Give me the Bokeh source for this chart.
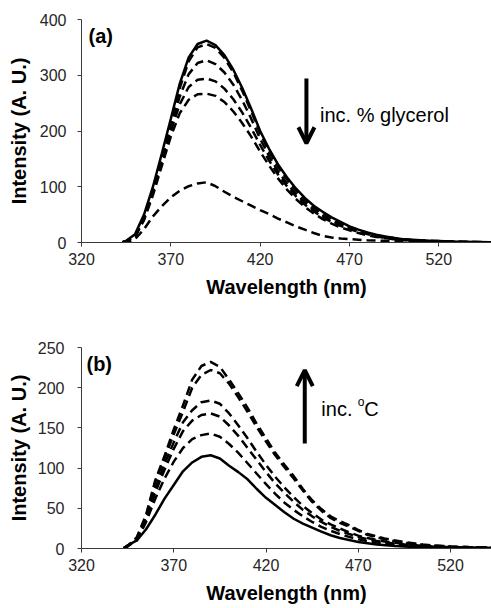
from bokeh.plotting import figure
from bokeh.layouts import column
from bokeh.models import Range1d, FixedTicker, Arrow, OpenHead, Label
from bokeh.embed import file_html
from bokeh.resources import INLINE

# ---------------- data ----------------
wavelength = [343, 345, 350, 355, 360, 365, 370, 375, 380, 385, 390, 395, 400, 405, 410,
              415, 420, 425, 430, 435, 440, 445, 450, 455, 460, 465, 470, 475, 480, 485,
              490, 495, 500, 505, 510, 515, 520, 530, 540, 550]

# panel (a): increasing % glycerol (solid = reference, dashed = increasing glycerol)
a_solid = [0.5, 3, 15, 50, 100, 160, 222, 285, 332, 356, 362, 354, 336, 310, 277, 240, 200, 168, 140, 117,
           97, 80, 66, 55, 45, 37, 29, 23, 18, 14, 11, 8, 6, 5, 4, 3, 2.5, 1.5, 1, 0.5]
a_d1 = [0.5, 2, 12, 45, 94, 153, 213, 277, 325, 350, 356, 349, 331, 305, 272, 235, 196, 163, 136, 113,
        93, 77, 63, 52, 43, 35, 28, 22, 17, 13, 10, 8, 6, 4.5, 3.5, 3, 2.5, 1.5, 1, 0.5]
a_d2 = [0.5, 2, 12, 44, 92, 150, 208, 262, 302, 322, 327, 320, 305, 283, 255, 222, 186, 155, 128, 106,
        87, 72, 59, 48, 39, 32, 26, 20, 16, 12, 9, 7, 5, 4, 3, 2.5, 2, 1.2, 0.8, 0.4]
a_d3 = [0.5, 2, 11, 42, 89, 145, 200, 248, 279, 292, 294, 289, 276, 257, 233, 205, 175, 147, 122, 101,
        83, 68, 56, 45, 37, 30, 24, 19, 15, 11, 8, 6, 5, 4, 3, 2.3, 1.8, 1, 0.6, 0.3]
a_d4 = [0.5, 2, 10, 40, 85, 138, 190, 232, 256, 266, 267, 263, 252, 235, 214, 190, 163, 138, 115, 95,
        78, 64, 52, 42, 34, 27, 22, 17, 13, 10, 8, 6, 4.5, 3.5, 2.7, 2, 1.6, 1, 0.6, 0.3]
a_d5 = [0, 0, 6, 24, 47, 65, 81, 93, 101, 106, 108, 101, 91, 82, 74, 66, 58, 51, 43, 36,
        29, 23, 17, 12, 9, 7, 6, 5, 4, 3.5, 3, 2.5, 2, 1.5, 1.2, 1, 0.8, 0.5, 0.3, 0.2]

# panel (b): increasing temperature
b_solid = [0.5, 4, 10, 24, 42, 62, 79, 96, 107, 114, 116, 112, 103, 95, 86, 74, 63, 54, 45, 37,
           31, 26, 21, 16.5, 13, 10.5, 8, 6.5, 5, 4, 3, 2.5, 2, 1.5, 1.3, 1, 0.8, 0.6, 0.4, 0.3]
b_d1 = [0.5, 3, 10, 33, 62, 87, 108, 125, 136, 141, 143, 139, 130, 119, 106, 93, 80, 68, 57, 48,
        40, 33, 27, 22, 18, 14.5, 11.5, 9, 7.5, 6, 5, 4, 3.3, 2.6, 2, 1.6, 1.3, 0.9, 0.6, 0.4]
b_d2 = [0.5, 3, 11, 36, 70, 98, 124, 146, 159, 166, 168, 164, 153, 140, 125, 110, 95, 81, 69, 58,
        48, 40, 33, 27, 22, 18, 14.5, 11.5, 9.5, 7.5, 6, 5, 4, 3.2, 2.5, 2, 1.7, 1.2, 0.8, 0.5]
b_d3 = [0.5, 3, 12, 38, 75, 105, 132, 157, 172, 182, 184, 180, 168, 153, 137, 120, 104, 89, 76, 64,
        53, 44, 36, 30, 25, 20, 16, 13, 10.5, 8.5, 7, 5.5, 4.5, 3.5, 2.8, 2.3, 1.9, 1.3, 0.9, 0.6]
b_d4 = [0.5, 3, 13, 40, 83, 112, 142, 170, 200, 216, 222, 218, 205, 188, 170, 151, 133, 116, 101, 87,
        72, 58, 47, 38, 32, 27, 22, 17, 14, 11, 9, 7, 6, 4.5, 3.6, 3, 2.4, 1.6, 1.1, 0.7]
b_d5 = [0.5, 3, 14, 42, 85, 115, 148, 178, 210, 227, 232, 226, 210, 193, 175, 155, 137, 119, 104, 90,
        74, 60, 49, 40, 34, 29, 23, 18, 15, 12, 10, 8, 6.5, 5, 4, 3.2, 2.6, 1.8, 1.2, 0.8]

x_ticks = [320, 370, 420, 470, 520]
a_y_ticks = [0, 100, 200, 300, 400]
b_y_ticks = [0, 50, 100, 150, 200, 250]

FONT = "Liberation Sans"
AXIS_COLOR = "#3a3a3a"
TEXT_COLOR = "#262626"


def make_fig(height, x_end, y_end, y_ticks, border_left, border_top, border_bottom):
    p = figure(width=491, height=height, output_backend="svg", toolbar_location=None,
               x_range=Range1d(320, x_end), y_range=Range1d(0, y_end),
               min_border_left=border_left, min_border_right=0,
               min_border_top=border_top, min_border_bottom=border_bottom)
    p.outline_line_color = None
    p.background_fill_color = "white"
    p.border_fill_color = "white"
    p.grid.visible = False
    p.xaxis.ticker = FixedTicker(ticks=x_ticks)
    p.yaxis.ticker = FixedTicker(ticks=y_ticks)
    for ax in (p.xaxis[0], p.yaxis[0]):
        ax.axis_line_color = AXIS_COLOR
        ax.axis_line_width = 1
        ax.major_tick_line_color = AXIS_COLOR
        ax.major_tick_in = 0
        ax.major_tick_out = 4
        ax.minor_tick_line_color = None
        ax.major_label_text_font = FONT
        ax.major_label_text_font_size = "16px"
        ax.major_label_text_color = TEXT_COLOR
        ax.axis_label_text_font = FONT
        ax.axis_label_text_font_size = "20px"
        ax.axis_label_text_font_style = "bold"
        ax.axis_label_text_color = "black"
    p.xaxis.axis_label = "Wavelength (nm)"
    p.yaxis.axis_label = "Intensity (A. U.)"
    p.xaxis.major_label_standoff = 6
    p.yaxis.major_label_standoff = 11
    p.xaxis.axis_label_standoff = 8
    p.yaxis.axis_label_standoff = 7
    return p


DASH = "9 5"
LW = 2.5

# ---------------- panel (a) ----------------
pa = make_fig(302, 549.5, 400, a_y_ticks, 79, 19, 60)
for ys in (a_d5, a_d4, a_d3, a_d2, a_d1):
    pa.line(wavelength, ys, line_color="black", line_width=LW, line_dash=DASH)
pa.line(wavelength, a_solid, line_color="black", line_width=LW)

pa.add_layout(Label(x=323.9, y=371, text="(a)", text_font=FONT, text_font_size="20px",
                    text_font_style="bold", text_baseline="middle", text_color="black"))
pa.add_layout(Arrow(end=OpenHead(size=16, line_width=4, line_color="black"),
                    x_start=445.9, y_start=294, x_end=445.9, y_end=178,
                    line_width=4, line_color="black"))
pa.add_layout(Label(x=453.5, y=228, text="inc. % glycerol", text_font=FONT,
                    text_font_size="20px", text_baseline="middle", text_color="black"))

# ---------------- panel (b) ----------------
pb = make_fig(306, 542.2, 250, b_y_ticks, 81, 45, 60)
pb.yaxis.major_label_standoff = 13
pb.yaxis.axis_label_standoff = 5
for ys in (b_d1, b_d2, b_d3, b_d4, b_d5):
    pb.line(wavelength, ys, line_color="black", line_width=LW, line_dash=DASH)
pb.line(wavelength, b_solid, line_color="black", line_width=LW)

pb.add_layout(Label(x=322.7, y=230, text="(b)", text_font=FONT, text_font_size="20px",
                    text_font_style="bold", text_baseline="middle", text_color="black"))
pb.add_layout(Arrow(end=OpenHead(size=16, line_width=4, line_color="black"),
                    x_start=441, y_start=130.6, x_end=441, y_end=221.8,
                    line_width=4, line_color="black"))
pb.add_layout(Label(x=450, y=174, text="inc. ", text_font=FONT, text_font_size="20px",
                    text_baseline="middle", text_color="black"))
pb.add_layout(Label(x=450, y=174, x_offset=36.5, y_offset=7, text="o", text_font=FONT,
                    text_font_size="12px", text_baseline="middle", text_color="black"))
pb.add_layout(Label(x=450, y=174, x_offset=43, text="C", text_font=FONT, text_font_size="20px",
                    text_baseline="middle", text_color="black"))

layout = column(pa, pb, spacing=0)
open("out.html", "w").write(file_html(layout, INLINE))
